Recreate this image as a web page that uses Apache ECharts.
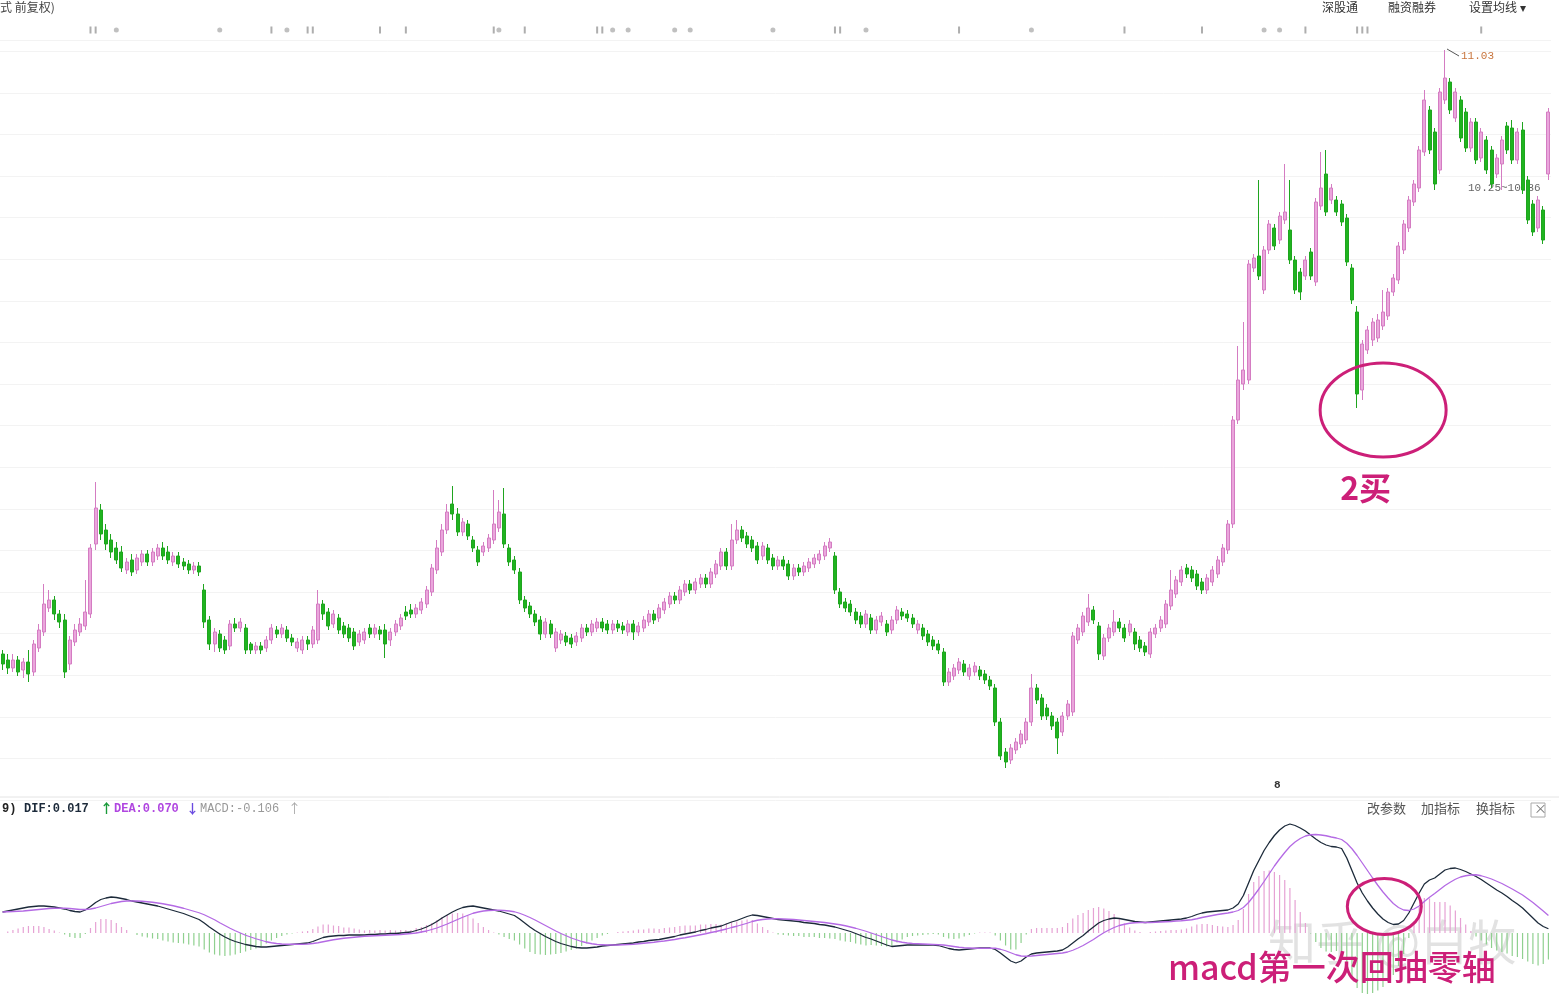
<!DOCTYPE html>
<html><head><meta charset="utf-8">
<script src="https://cdn.jsdelivr.net/npm/echarts@6/dist/echarts.min.js"></script>
<style>html,body{margin:0;padding:0;background:#fff;}#c{width:1559px;height:1002px;}</style>
</head><body><div id="c"></div>
<script>
// ---- price data (OHLC) ----
const openP=[
8.01,7.98,7.94,7.98,7.93,7.97,7.92,8.04,8.12,8.24,
8.28,8.21,8.18,7.96,8.07,8.12,8.15,8.21,8.56,8.73,
8.63,8.58,8.54,8.52,8.43,8.48,8.43,8.47,8.51,8.47,
8.50,8.54,8.52,8.47,8.50,8.47,8.46,8.43,8.45,8.33,
8.18,8.06,8.11,8.08,8.05,8.16,8.14,8.14,8.06,8.03,
8.05,8.04,8.08,8.13,8.11,8.13,8.09,8.04,8.03,8.08,
8.06,8.08,8.26,8.22,8.16,8.19,8.15,8.14,8.12,8.07,
8.08,8.14,8.11,8.13,8.13,8.08,8.12,8.15,8.22,8.23,
8.21,8.23,8.26,8.32,8.43,8.52,8.63,8.76,8.71,8.62,
8.66,8.58,8.53,8.52,8.54,8.58,8.64,8.71,8.54,8.48,
8.42,8.28,8.25,8.21,8.18,8.11,8.16,8.04,8.08,8.10,
8.09,8.07,8.09,8.14,8.12,8.14,8.17,8.16,8.13,8.16,
8.15,8.12,8.16,8.12,8.14,8.17,8.21,8.19,8.23,8.26,
8.30,8.28,8.32,8.36,8.33,8.36,8.39,8.36,8.41,8.45,
8.52,8.45,8.58,8.63,8.60,8.58,8.55,8.50,8.54,8.49,
8.45,8.48,8.46,8.40,8.44,8.42,8.44,8.46,8.48,8.50,
8.54,8.50,8.32,8.27,8.26,8.22,8.20,8.16,8.19,8.13,
8.17,8.16,8.13,8.18,8.22,8.21,8.19,8.13,8.14,8.11,
8.08,8.06,8.02,7.87,7.90,7.93,7.96,7.90,7.92,7.93,
7.91,7.88,7.84,7.67,7.52,7.48,7.53,7.56,7.58,7.67,
7.84,7.79,7.74,7.70,7.67,7.62,7.70,7.72,8.08,8.12,
8.17,8.23,8.15,8.00,8.09,8.12,8.17,8.14,8.12,8.12,
8.08,8.05,8.01,8.11,8.14,8.16,8.25,8.31,8.37,8.44,
8.43,8.41,8.37,8.33,8.37,8.41,8.47,8.53,8.66,9.18,
9.36,9.38,9.94,10.00,9.83,10.03,10.14,10.08,10.18,10.13,
9.98,9.92,9.90,10.02,9.87,10.25,10.41,10.28,10.28,10.26,
10.19,9.94,9.72,9.33,9.53,9.58,9.59,9.65,9.70,9.82,
9.88,10.03,10.14,10.27,10.34,10.52,10.73,10.62,10.43,10.78,
10.87,10.69,10.78,10.72,10.54,10.67,10.49,10.58,10.53,10.41,
10.46,10.65,10.64,10.48,10.63,10.38,10.26,10.14,10.23,10.41];
const closeP=[
7.96,7.94,7.98,7.92,7.97,7.91,8.06,8.13,8.26,8.28,
8.21,8.17,7.92,8.08,8.13,8.16,8.22,8.54,8.74,8.61,
8.56,8.52,8.48,8.44,8.47,8.42,8.49,8.51,8.47,8.52,
8.54,8.50,8.48,8.50,8.46,8.45,8.43,8.45,8.42,8.17,
8.06,8.12,8.04,8.03,8.16,8.14,8.17,8.03,8.03,8.05,
8.03,8.08,8.14,8.11,8.14,8.09,8.07,8.07,8.08,8.06,
8.13,8.26,8.21,8.15,8.21,8.13,8.11,8.09,8.05,8.11,
8.12,8.11,8.14,8.11,8.06,8.12,8.16,8.19,8.20,8.21,
8.24,8.27,8.33,8.44,8.54,8.63,8.72,8.71,8.62,8.67,
8.60,8.54,8.47,8.55,8.59,8.66,8.72,8.56,8.47,8.43,
8.28,8.24,8.21,8.17,8.11,8.17,8.11,8.12,8.11,8.07,
8.06,8.10,8.14,8.12,8.16,8.17,8.14,8.13,8.16,8.14,
8.13,8.16,8.12,8.15,8.18,8.21,8.18,8.24,8.27,8.30,
8.28,8.33,8.36,8.33,8.37,8.39,8.36,8.42,8.46,8.52,
8.45,8.58,8.63,8.59,8.56,8.54,8.48,8.55,8.48,8.45,
8.48,8.45,8.40,8.44,8.42,8.45,8.47,8.49,8.51,8.55,
8.57,8.33,8.26,8.24,8.22,8.18,8.16,8.21,8.13,8.18,
8.20,8.12,8.18,8.23,8.20,8.19,8.16,8.16,8.10,8.07,
8.05,8.03,7.87,7.92,7.94,7.97,7.92,7.94,7.95,7.90,
7.88,7.85,7.67,7.50,7.47,7.54,7.57,7.61,7.67,7.84,
7.78,7.70,7.70,7.65,7.59,7.70,7.76,8.10,8.14,8.20,
8.24,8.18,8.01,8.09,8.14,8.17,8.14,8.09,8.16,8.06,
8.04,8.02,8.12,8.14,8.18,8.26,8.33,8.38,8.43,8.41,
8.39,8.35,8.33,8.39,8.43,8.48,8.54,8.66,9.18,9.38,
9.43,9.96,9.99,9.90,10.03,10.16,10.05,10.20,10.22,9.98,
9.83,9.82,9.98,9.90,10.27,10.34,10.22,10.34,10.22,10.17,
9.97,9.78,9.31,9.56,9.63,9.67,9.68,9.72,9.82,9.89,
10.05,10.16,10.28,10.36,10.53,10.78,10.53,10.36,10.82,10.89,
10.73,10.82,10.59,10.54,10.67,10.48,10.62,10.43,10.36,10.49,
10.58,10.53,10.48,10.62,10.33,10.18,10.12,10.28,10.08,10.72];
const lowP=[
7.93,7.91,7.92,7.90,7.89,7.87,7.90,8.02,8.10,8.22,
8.18,8.14,7.89,7.93,8.05,8.10,8.13,8.19,8.53,8.58,
8.53,8.49,8.46,8.42,8.41,8.40,8.41,8.45,8.45,8.45,
8.48,8.48,8.46,8.45,8.44,8.43,8.41,8.41,8.40,8.14,
8.03,8.02,8.02,8.01,8.03,8.12,8.12,8.01,8.01,8.01,
8.01,8.02,8.06,8.09,8.09,8.07,8.05,8.02,8.01,8.03,
8.04,8.06,8.18,8.13,8.14,8.11,8.09,8.07,8.03,8.05,
8.06,8.09,8.09,8.08,7.99,8.05,8.10,8.13,8.18,8.19,
8.19,8.21,8.24,8.30,8.41,8.50,8.61,8.68,8.60,8.60,
8.58,8.52,8.45,8.50,8.52,8.56,8.62,8.54,8.45,8.41,
8.26,8.22,8.19,8.15,8.08,8.09,8.09,8.02,8.06,8.05,
8.04,8.05,8.07,8.10,8.10,8.12,8.12,8.11,8.11,8.12,
8.11,8.10,8.08,8.10,8.12,8.15,8.16,8.17,8.21,8.24,
8.26,8.26,8.30,8.31,8.31,8.34,8.34,8.34,8.39,8.43,
8.43,8.43,8.56,8.57,8.54,8.52,8.46,8.48,8.46,8.43,
8.43,8.43,8.38,8.38,8.40,8.40,8.42,8.44,8.46,8.48,
8.52,8.31,8.24,8.22,8.20,8.16,8.14,8.14,8.11,8.11,
8.15,8.10,8.11,8.16,8.18,8.17,8.14,8.11,8.08,8.05,
8.03,8.01,7.85,7.85,7.88,7.91,7.90,7.88,7.90,7.88,
7.86,7.83,7.65,7.48,7.44,7.46,7.51,7.54,7.56,7.65,
7.76,7.68,7.68,7.63,7.51,7.60,7.68,7.70,8.06,8.10,
8.15,8.16,7.98,7.98,8.07,8.10,8.12,8.07,8.10,8.03,
8.02,8.00,7.99,8.09,8.12,8.14,8.23,8.29,8.35,8.39,
8.37,8.33,8.31,8.31,8.35,8.39,8.45,8.51,8.64,9.16,
9.33,9.36,9.92,9.88,9.81,10.01,10.03,10.06,10.16,9.96,
9.81,9.78,9.88,9.88,9.85,10.23,10.20,10.26,10.20,10.15,
9.95,9.76,9.24,9.28,9.51,9.55,9.57,9.63,9.68,9.80,
9.86,10.01,10.12,10.25,10.32,10.50,10.51,10.33,10.41,10.76,
10.71,10.67,10.57,10.52,10.52,10.46,10.47,10.41,10.34,10.39,
10.33,10.51,10.46,10.46,10.31,10.16,10.10,10.12,10.06,10.38];
const highP=[
8.03,8.01,8.01,8.00,7.99,8.03,8.08,8.16,8.36,8.33,
8.30,8.23,8.21,8.10,8.16,8.19,8.38,8.56,8.87,8.76,
8.66,8.61,8.57,8.55,8.49,8.51,8.51,8.53,8.53,8.54,
8.56,8.57,8.55,8.52,8.52,8.49,8.48,8.47,8.47,8.36,
8.20,8.14,8.13,8.10,8.18,8.19,8.19,8.16,8.07,8.07,
8.07,8.10,8.16,8.15,8.16,8.15,8.11,8.09,8.10,8.10,
8.15,8.33,8.28,8.24,8.23,8.21,8.17,8.16,8.14,8.13,
8.14,8.16,8.16,8.15,8.16,8.14,8.18,8.21,8.25,8.26,
8.26,8.29,8.35,8.46,8.58,8.66,8.76,8.85,8.74,8.69,
8.68,8.60,8.55,8.57,8.61,8.83,8.78,8.84,8.56,8.50,
8.44,8.30,8.27,8.23,8.20,8.19,8.18,8.14,8.13,8.12,
8.11,8.12,8.16,8.16,8.18,8.19,8.19,8.18,8.18,8.18,
8.17,8.18,8.18,8.17,8.20,8.23,8.23,8.26,8.29,8.32,
8.32,8.35,8.38,8.38,8.39,8.41,8.41,8.44,8.48,8.54,
8.54,8.66,8.68,8.65,8.62,8.60,8.57,8.57,8.56,8.51,
8.50,8.50,8.48,8.46,8.46,8.47,8.49,8.51,8.53,8.57,
8.59,8.52,8.34,8.29,8.28,8.24,8.22,8.23,8.21,8.20,
8.22,8.18,8.20,8.25,8.24,8.23,8.21,8.18,8.16,8.13,
8.10,8.08,8.04,7.94,7.96,7.99,7.98,7.96,7.97,7.95,
7.93,7.90,7.86,7.69,7.54,7.56,7.59,7.63,7.69,7.91,
7.86,7.81,7.76,7.72,7.69,7.72,7.78,8.12,8.16,8.22,
8.31,8.25,8.17,8.11,8.16,8.23,8.19,8.16,8.18,8.14,
8.10,8.07,8.14,8.16,8.20,8.28,8.43,8.40,8.45,8.46,
8.45,8.43,8.39,8.41,8.45,8.50,8.56,8.68,9.20,9.55,
9.67,9.98,10.01,10.38,10.05,10.18,10.16,10.22,10.46,10.38,
10.00,9.94,10.00,10.04,10.29,10.52,10.53,10.36,10.30,10.28,
10.21,9.96,9.75,9.58,9.65,9.69,9.71,9.83,9.84,9.91,
10.07,10.18,10.30,10.38,10.55,10.83,10.75,10.64,10.84,11.03,
10.89,10.84,10.80,10.74,10.69,10.69,10.64,10.60,10.55,10.51,
10.60,10.67,10.68,10.64,10.67,10.40,10.28,10.30,10.25,10.74];

// ---- MACD(12,26,9) ----
const difVals=[
0.084,0.088,0.092,0.096,0.100,0.104,0.106,0.108,0.108,0.106,
0.104,0.100,0.096,0.090,0.086,0.084,0.092,0.106,0.122,0.134,
0.140,0.144,0.142,0.138,0.134,0.128,0.124,0.120,0.116,0.112,
0.108,0.102,0.096,0.090,0.084,0.078,0.070,0.062,0.054,0.040,
0.024,0.010,-0.004,-0.016,-0.026,-0.034,-0.040,-0.046,-0.050,-0.054,
-0.056,-0.056,-0.054,-0.052,-0.050,-0.048,-0.046,-0.044,-0.042,-0.040,
-0.034,-0.026,-0.018,-0.014,-0.012,-0.010,-0.010,-0.008,-0.008,-0.008,
-0.008,-0.006,-0.006,-0.004,-0.004,-0.002,-0.002,0.000,0.002,0.004,
0.010,0.016,0.024,0.034,0.046,0.060,0.072,0.084,0.094,0.102,
0.106,0.108,0.104,0.100,0.096,0.092,0.088,0.082,0.076,0.070,
0.056,0.040,0.024,0.010,-0.002,-0.014,-0.024,-0.034,-0.042,-0.048,
-0.054,-0.058,-0.060,-0.060,-0.058,-0.056,-0.052,-0.050,-0.048,-0.046,
-0.044,-0.042,-0.040,-0.036,-0.034,-0.030,-0.028,-0.026,-0.022,-0.018,
-0.014,-0.008,-0.004,0.000,0.004,0.010,0.014,0.020,0.024,0.028,
0.036,0.044,0.050,0.058,0.066,0.072,0.070,0.066,0.062,0.058,
0.054,0.052,0.050,0.048,0.046,0.042,0.040,0.038,0.034,0.032,
0.028,0.024,0.018,0.012,0.006,-0.002,-0.010,-0.018,-0.024,-0.032,
-0.040,-0.048,-0.054,-0.052,-0.050,-0.048,-0.048,-0.048,-0.048,-0.048,
-0.048,-0.050,-0.056,-0.062,-0.066,-0.068,-0.066,-0.064,-0.062,-0.060,
-0.060,-0.060,-0.066,-0.080,-0.096,-0.112,-0.120,-0.112,-0.096,-0.084,
-0.080,-0.078,-0.076,-0.074,-0.072,-0.068,-0.056,-0.040,-0.024,-0.010,
0.008,0.024,0.040,0.050,0.056,0.060,0.058,0.054,0.050,0.046,
0.044,0.042,0.044,0.046,0.048,0.050,0.052,0.054,0.056,0.060,
0.066,0.074,0.080,0.084,0.086,0.088,0.090,0.092,0.100,0.116,
0.150,0.200,0.250,0.290,0.330,0.362,0.390,0.412,0.428,0.436,
0.430,0.420,0.408,0.392,0.376,0.362,0.352,0.346,0.344,0.338,
0.300,0.250,0.200,0.160,0.128,0.100,0.076,0.056,0.042,0.034,
0.036,0.050,0.080,0.120,0.160,0.196,0.212,0.220,0.236,0.252,
0.258,0.260,0.254,0.246,0.236,0.226,0.214,0.200,0.186,0.172,
0.160,0.146,0.130,0.116,0.100,0.080,0.060,0.040,0.026,0.017];
const deaVals=[
0.084,0.085,0.086,0.087,0.088,0.090,0.092,0.094,0.096,0.098,
0.099,0.099,0.099,0.098,0.096,0.094,0.094,0.096,0.100,0.106,
0.112,0.118,0.122,0.126,0.128,0.128,0.128,0.127,0.125,0.123,
0.120,0.117,0.113,0.109,0.104,0.099,0.093,0.087,0.081,0.073,
0.063,0.053,0.041,0.030,0.019,0.009,0.000,-0.009,-0.016,-0.023,
-0.029,-0.035,-0.039,-0.042,-0.044,-0.045,-0.045,-0.045,-0.045,-0.044,
-0.042,-0.039,-0.035,-0.031,-0.027,-0.024,-0.021,-0.019,-0.017,-0.015,
-0.013,-0.012,-0.011,-0.010,-0.009,-0.008,-0.007,-0.006,-0.004,-0.002,
0.000,0.004,0.008,0.014,0.020,0.028,0.036,0.045,0.054,0.063,
0.071,0.079,0.084,0.088,0.090,0.091,0.091,0.090,0.088,0.085,
0.079,0.071,0.062,0.052,0.041,0.030,0.019,0.008,-0.002,-0.011,
-0.020,-0.027,-0.034,-0.039,-0.043,-0.046,-0.047,-0.048,-0.048,-0.048,
-0.047,-0.046,-0.045,-0.043,-0.041,-0.039,-0.037,-0.034,-0.032,-0.029,
-0.026,-0.022,-0.019,-0.015,-0.011,-0.007,-0.003,0.002,0.006,0.011,
0.016,0.022,0.027,0.033,0.039,0.046,0.051,0.054,0.056,0.057,
0.057,0.056,0.055,0.054,0.052,0.050,0.048,0.046,0.044,0.042,
0.039,0.036,0.033,0.029,0.024,0.019,0.013,0.007,0.000,-0.007,
-0.014,-0.021,-0.028,-0.033,-0.037,-0.040,-0.042,-0.043,-0.044,-0.045,
-0.046,-0.047,-0.048,-0.051,-0.054,-0.057,-0.059,-0.060,-0.061,-0.061,
-0.061,-0.061,-0.061,-0.065,-0.071,-0.079,-0.087,-0.092,-0.093,-0.092,
-0.090,-0.088,-0.086,-0.084,-0.082,-0.080,-0.076,-0.069,-0.060,-0.050,
-0.038,-0.026,-0.012,0.001,0.012,0.022,0.030,0.035,0.039,0.041,
0.042,0.042,0.042,0.043,0.044,0.045,0.046,0.048,0.049,0.051,
0.053,0.057,0.062,0.066,0.070,0.074,0.077,0.080,0.084,0.090,
0.102,0.122,0.148,0.176,0.206,0.237,0.268,0.296,0.322,0.346,
0.364,0.378,0.388,0.393,0.394,0.392,0.389,0.384,0.380,0.374,
0.359,0.337,0.310,0.280,0.250,0.220,0.191,0.164,0.140,0.118,
0.102,0.092,0.090,0.096,0.108,0.126,0.143,0.158,0.174,0.190,
0.203,0.215,0.224,0.229,0.232,0.233,0.229,0.223,0.216,0.207,
0.198,0.187,0.176,0.164,0.152,0.137,0.122,0.105,0.088,0.070];
const macdVals=[
0.000,0.006,0.012,0.018,0.024,0.028,0.028,0.028,0.024,0.016,
0.010,0.002,-0.006,-0.016,-0.020,-0.020,-0.004,0.020,0.044,0.056,
0.056,0.052,0.040,0.024,0.012,0.000,-0.008,-0.014,-0.018,-0.022,
-0.024,-0.030,-0.034,-0.038,-0.040,-0.042,-0.046,-0.050,-0.054,-0.066,
-0.078,-0.086,-0.090,-0.092,-0.090,-0.086,-0.080,-0.074,-0.068,-0.062,
-0.054,-0.042,-0.030,-0.020,-0.012,-0.006,-0.002,0.002,0.006,0.008,
0.016,0.026,0.034,0.034,0.030,0.028,0.022,0.022,0.018,0.014,
0.010,0.012,0.010,0.012,0.010,0.012,0.010,0.012,0.012,0.012,
0.020,0.024,0.032,0.040,0.052,0.064,0.072,0.078,0.080,0.078,
0.070,0.058,0.040,0.024,0.012,0.002,-0.006,-0.016,-0.024,-0.030,
-0.046,-0.062,-0.076,-0.084,-0.086,-0.088,-0.086,-0.084,-0.080,-0.074,
-0.068,-0.062,-0.052,-0.042,-0.030,-0.020,-0.010,-0.004,0.000,0.004,
0.006,0.008,0.010,0.014,0.014,0.018,0.018,0.016,0.020,0.022,
0.024,0.028,0.030,0.030,0.030,0.034,0.034,0.036,0.036,0.034,
0.040,0.044,0.046,0.050,0.054,0.052,0.038,0.024,0.012,0.002,
-0.006,-0.008,-0.010,-0.012,-0.012,-0.016,-0.016,-0.016,-0.020,-0.020,
-0.022,-0.024,-0.030,-0.034,-0.036,-0.042,-0.046,-0.050,-0.048,-0.050,
-0.052,-0.054,-0.052,-0.038,-0.026,-0.016,-0.012,-0.010,-0.008,-0.006,
-0.004,-0.006,-0.016,-0.022,-0.024,-0.022,-0.014,-0.008,-0.002,0.002,
0.002,0.002,-0.010,-0.030,-0.050,-0.066,-0.066,-0.040,-0.006,0.016,
0.020,0.020,0.020,0.020,0.020,0.024,0.040,0.058,0.072,0.080,
0.092,0.100,0.104,0.098,0.088,0.076,0.056,0.038,0.022,0.010,
0.004,0.000,0.004,0.006,0.008,0.010,0.012,0.012,0.014,0.018,
0.026,0.034,0.036,0.036,0.032,0.028,0.026,0.024,0.032,0.052,
0.096,0.156,0.204,0.228,0.248,0.250,0.244,0.232,0.212,0.180,
0.132,0.084,0.040,-0.002,-0.036,-0.060,-0.074,-0.076,-0.072,-0.072,
-0.118,-0.174,-0.220,-0.240,-0.244,-0.240,-0.230,-0.216,-0.196,-0.168,
-0.132,-0.084,-0.020,0.048,0.104,0.140,0.138,0.124,0.124,0.124,
0.110,0.090,0.060,0.034,0.008,-0.014,-0.030,-0.046,-0.060,-0.070,
-0.076,-0.082,-0.092,-0.096,-0.104,-0.114,-0.124,-0.130,-0.124,-0.106];

// info-mine markers on the timeline (candle indices)
const eventBarIdx=[17,18,52,59,60,73,78,95,101,115,116,161,162,185,217,232,252,262,263,264,286];
const eventDotIdx=[22,42,55,96,118,121,130,133,149,167,199,244,247];

const categories=openP.map((_,i)=>String(i+1));
const kData=openP.map((o,i)=>[o,closeP[i],lowP[i],highP[i]]);

const chart=echarts.init(document.getElementById('c'),null,{renderer:'canvas'});
const FONT='"Noto Sans CJK SC", "Noto Sans", sans-serif';
const MONO='"Liberation Mono", "DejaVu Sans Mono", monospace';

function xAx(gi){return {type:'category',gridIndex:gi,data:categories,boundaryGap:true,
  axisLine:{show:false},axisTick:{show:false},axisLabel:{show:false},splitLine:{show:false}};}

const last=difVals.length-1;
chart.setOption({
  animation:false,
  backgroundColor:'#ffffff',
  grid:[
    {left:0,right:8,top:24,height:12,outerBoundsMode:'none'},
    {left:0,right:8,top:40,height:760,outerBoundsMode:'none'},
    {left:0,right:8,top:822,height:173,outerBoundsMode:'none'}
  ],
  xAxis:[xAx(0),xAx(1),xAx(2)],
  yAxis:[
    {type:'value',gridIndex:0,min:0,max:1,show:false},
    {type:'value',gridIndex:1,min:7.28,max:11.08,interval:0.208,scale:true,
      axisLine:{show:false},axisTick:{show:false},axisLabel:{show:false},
      splitLine:{show:true,lineStyle:{color:'#f3f3f3',width:1}}},
    {type:'value',gridIndex:2,min:-0.248,max:0.444,
      axisLine:{show:false},axisTick:{show:false},axisLabel:{show:false},splitLine:{show:false}}
  ],
  series:[
    {type:'scatter',xAxisIndex:0,yAxisIndex:0,symbol:'rect',symbolSize:[2,7],
      itemStyle:{color:'#9a9a9a'},data:eventBarIdx.map(i=>[i,0.5]),silent:true},
    {type:'scatter',xAxisIndex:0,yAxisIndex:0,symbol:'circle',symbolSize:5,
      itemStyle:{color:'#b0b0b0'},data:eventDotIdx.map(i=>[i,0.5]),silent:true},
    {type:'candlestick',name:'K',xAxisIndex:1,yAxisIndex:1,data:kData,barWidth:3.5,
      itemStyle:{color:'#eaa6dc',color0:'#1fb41f',borderColor:'#d47cc2',borderColor0:'#1fa51f',borderWidth:1}},
    {type:'bar',name:'MACD',xAxisIndex:2,yAxisIndex:2,data:macdVals,barWidth:1.2,
      itemStyle:{color:p=>p.value>=0?'#e6a2d4':'#8fd08f'}},
    {type:'line',name:'DIF',xAxisIndex:2,yAxisIndex:2,data:difVals,symbol:'none',
      lineStyle:{color:'#1c2a3a',width:1.3}},
    {type:'line',name:'DEA',xAxisIndex:2,yAxisIndex:2,data:deaVals,symbol:'none',
      lineStyle:{color:'#b46ae4',width:1.3}}
  ]
});

// --- annotations positioned from the data ---
let maxIdx=0; highP.forEach((h,i)=>{if(h>highP[maxIdx])maxIdx=i;});
const pMax=chart.convertToPixel({xAxisIndex:1,yAxisIndex:1},[maxIdx,highP[maxIdx]]);
let buyIdx=250; for(let i=250;i<275;i++){if(lowP[i]<lowP[buyIdx])buyIdx=i;}
const pBuy=chart.convertToPixel({xAxisIndex:1,yAxisIndex:1},[buyIdx,lowP[buyIdx]]);
let difMinIdx=262; for(let i=262;i<280;i++){if(difVals[i]<difVals[difMinIdx])difMinIdx=i;}
const pDif=chart.convertToPixel({xAxisIndex:2,yAxisIndex:2},[difMinIdx,difVals[difMinIdx]]);

const RED='#cc1f78';
chart.setOption({graphic:[
  {type:'text',left:0,top:1,style:{text:'式 前复权)',font:'12px '+FONT,fill:'#444'}},
  {type:'text',left:1322,top:1,style:{text:'深股通',font:'12px '+FONT,fill:'#333'}},
  {type:'text',left:1388,top:1,style:{text:'融资融券',font:'12px '+FONT,fill:'#333'}},
  {type:'text',left:1469,top:1,style:{text:'设置均线 ▾',font:'12px '+FONT,fill:'#333'}},
  {type:'line',shape:{x1:0,y1:797,x2:1559,y2:797},style:{stroke:'#e4e4e4',lineWidth:1}},
  {type:'text',left:1274,top:780,style:{text:'8',font:'bold 11px '+MONO,fill:'#333'}},
  {type:'text',left:2,top:803,style:{text:'9)',font:'bold 12px '+MONO,fill:'#222'}},
  {type:'text',left:24,top:803,style:{text:'DIF:'+difVals[last].toFixed(3),font:'bold 12px '+MONO,fill:'#1c2a3a'}},
  {type:'text',left:100,top:802,style:{text:'↑',font:'bold 13px '+FONT,fill:'#1a9a3a'}},
  {type:'text',left:114,top:803,style:{text:'DEA:'+deaVals[last].toFixed(3),font:'bold 12px '+MONO,fill:'#b046e0'}},
  {type:'text',left:186,top:802,style:{text:'↓',font:'bold 13px '+FONT,fill:'#6a4ae0'}},
  {type:'text',left:200,top:803,style:{text:'MACD:'+macdVals[last].toFixed(3),font:'12px '+MONO,fill:'#999'}},
  {type:'text',left:288,top:802,style:{text:'↑',font:'13px '+FONT,fill:'#aaa'}},
  {type:'text',left:1367,top:802,style:{text:'改参数',font:'13px '+FONT,fill:'#555'}},
  {type:'text',left:1421,top:802,style:{text:'加指标',font:'13px '+FONT,fill:'#555'}},
  {type:'text',left:1476,top:802,style:{text:'换指标',font:'13px '+FONT,fill:'#555'}},
  {type:'rect',shape:{x:1531,y:803,width:14,height:14},style:{fill:'#fff',stroke:'#aaa',lineWidth:1}},
  {type:'text',left:1534,top:802,style:{text:'×',font:'13px '+FONT,fill:'#777'}},
  {type:'line',shape:{x1:pMax[0]+2,y1:pMax[1]-1,x2:pMax[0]+14,y2:pMax[1]+6},style:{stroke:'#555',lineWidth:1}},
  {type:'text',left:pMax[0]+16,top:pMax[1]+1,style:{text:highP[maxIdx].toFixed(2),font:'11px '+MONO,fill:'#c8743c'}},
  {type:'text',left:1468,top:183,style:{text:'10.25~10.36',font:'11px '+MONO,fill:'#666'}},
  {type:'text',left:1268,top:918,z:1,style:{text:'知乎 @白牧',font:'48px '+FONT,fill:'rgba(140,140,140,0.25)'}},
  {type:'ellipse',z:100,shape:{cx:pBuy[0]+26,cy:pBuy[1]+2,rx:63,ry:47},style:{fill:'none',stroke:RED,lineWidth:3}},
  {type:'text',z:100,left:pBuy[0]-17,top:pBuy[1]+64,style:{text:'2买',font:'bold 32px '+FONT,fill:RED}},
  {type:'ellipse',z:100,shape:{cx:pDif[0]-9,cy:pDif[1]-18,rx:37,ry:28},style:{fill:'none',stroke:RED,lineWidth:3}},
  {type:'text',z:100,left:1168,top:950,style:{text:'macd第一次回抽零轴',font:'500 34px '+FONT,fill:RED}}
]});
</script>
</body></html>
